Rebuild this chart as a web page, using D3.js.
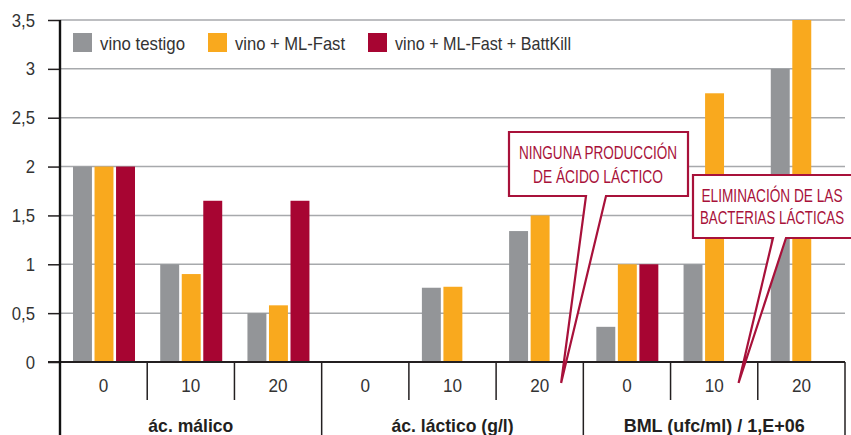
<!DOCTYPE html>
<html>
<head>
<meta charset="utf-8">
<script src="https://cdn.jsdelivr.net/npm/d3@7"></script>
<style>
  body { margin: 0; background: #fff; }
  svg { display: block; font-family: "Liberation Sans", Arial, sans-serif; }
</style>
</head>
<body>
<svg id="chart" width="851" height="435"></svg>
<script>
// DATA
const groups = ["ác. málico", "ác. láctico (g/l)", "BML (ufc/ml) / 1,E+06"];
const levels = ["0", "10", "20"];
const seriesNames = ["vino testigo", "vino + ML-Fast", "vino + ML-Fast + BattKill"];
const vinoTestigo = [2, 1, 0.5, 0, 0.76, 1.34, 0.36, 1, 3];
const vinoMLFast = [2, 0.9, 0.58, 0, 0.77, 1.5, 1, 2.75, 3.5];
const vinoBattKill = [2, 1.65, 1.65, 0, 0, 0, 1, 0, 0];
const yTicks = [0, 0.5, 1, 1.5, 2, 2.5, 3, 3.5];
const notes = [
  { lines: ["NINGUNA PRODUCCIÓN", "DE ÁCIDO LÁCTICO"], slot: 5 },
  { lines: ["ELIMINACIÓN DE LAS", "BACTERIAS LÁCTICAS"], slot: 7 }
];

const colors = ["#939598", "#f9a91e", "#a70532"];
const noteColor = "#a8113a";
const textColor = "#333333";

const svg = d3.select("#chart");

// condensed look: squeeze text to the widths seen in the original
const squeeze = (sel, w) => sel.attr("textLength", w).attr("lengthAdjust", "spacingAndGlyphs");

// SCALES
const plotLeft = 60, plotRight = 845, plotTop = 20, plotBase = 362;
const slots = d3.range(groups.length * levels.length);

const xScale = d3.scaleBand().domain(slots).range([plotLeft, plotRight]).padding(0);
const xSeries = d3.scaleBand().domain(d3.range(seriesNames.length))
  .range([13, 75]).paddingInner(0.12).paddingOuter(0);
const yScale = d3.scaleLinear().domain([0, 3.5]).range([plotBase, plotTop]);

// GRIDLINES
svg.append("g")
  .selectAll("line")
  .data(yTicks)
  .join("line")
  .attr("x1", plotLeft).attr("x2", plotRight)
  .attr("y1", d => yScale(d)).attr("y2", d => yScale(d))
  .attr("stroke", "#a7a9ac").attr("stroke-width", 1.5);

// Y AXIS
const yAxis = d3.axisLeft(yScale)
  .tickValues(yTicks)
  .tickSize(12)
  .tickPadding(13)
  .tickFormat(d => String(d).replace(".", ","));

const yG = svg.append("g").attr("transform", `translate(${plotLeft},0)`).call(yAxis);
yG.select(".domain").remove();
yG.selectAll(".tick line").attr("stroke", "#231f20").attr("stroke-width", 1.5);
yG.selectAll(".tick text")
  .attr("fill", textColor)
  .attr("font-size", 19)
  .attr("font-family", "Liberation Sans, Arial, sans-serif")
  .each(function () {
    const t = d3.select(this);
    squeeze(t, this.getComputedTextLength() * 0.88);
  });

// BARS
const seriesData = [vinoTestigo, vinoMLFast, vinoBattKill];
seriesData.forEach((vals, si) => {
  svg.append("g")
    .selectAll("rect")
    .data(vals)
    .join("rect")
    .attr("x", (d, i) => xScale(i) + xSeries(si))
    .attr("width", xSeries.bandwidth())
    .attr("y", d => yScale(d))
    .attr("height", d => yScale(0) - yScale(d))
    .attr("fill", colors[si]);
});

// X AXIS FRAME
svg.append("line")
  .attr("x1", plotLeft - 12).attr("x2", plotRight)
  .attr("y1", plotBase).attr("y2", plotBase)
  .attr("stroke", "#231f20").attr("stroke-width", 2.2);

svg.append("line")
  .attr("x1", plotLeft).attr("x2", plotLeft)
  .attr("y1", plotTop).attr("y2", 435)
  .attr("stroke", "#111").attr("stroke-width", 2.4);

// separators between categories
const minorEdges = slots.slice(1).filter(i => i % levels.length !== 0);
svg.append("g")
  .selectAll("line")
  .data(minorEdges)
  .join("line")
  .attr("x1", d => xScale(d)).attr("x2", d => xScale(d))
  .attr("y1", plotBase).attr("y2", 400)
  .attr("stroke", "#231f20").attr("stroke-width", 1.5);

const majorEdges = d3.range(1, groups.length + 1).map(g => g * levels.length);
svg.append("g")
  .selectAll("line")
  .data(majorEdges)
  .join("line")
  .attr("x1", d => d < slots.length ? xScale(d) : plotRight)
  .attr("x2", d => d < slots.length ? xScale(d) : plotRight)
  .attr("y1", plotBase).attr("y2", 435)
  .attr("stroke", "#231f20").attr("stroke-width", 1.5);

// category labels
svg.append("g")
  .selectAll("text")
  .data(slots)
  .join("text")
  .attr("x", d => xScale(d) + xScale.bandwidth() / 2)
  .attr("y", 392)
  .attr("text-anchor", "middle")
  .attr("font-size", 19)
  .attr("fill", textColor)
  .text(d => levels[d % levels.length])
  .each(function () {
    squeeze(d3.select(this), this.getComputedTextLength() * 0.9);
  });

const groupWidths = [85, 122, 181];
svg.append("g")
  .selectAll("text")
  .data(groups)
  .join("text")
  .attr("x", (d, g) => xScale(g * 3) + xScale.bandwidth() * 1.5)
  .attr("y", 432)
  .attr("text-anchor", "middle")
  .attr("font-size", 19)
  .attr("font-weight", "bold")
  .attr("fill", "#231f20")
  .text(d => d)
  .each(function (d, i) { squeeze(d3.select(this), groupWidths[i]); });

// LEGEND
const legendX = [73, 208, 368];
const legendWidths = [85, 110, 176];
const legend = svg.append("g")
  .selectAll("g")
  .data(seriesNames)
  .join("g")
  .attr("transform", (d, i) => `translate(${legendX[i]},33)`);
legend.append("rect").attr("width", 19).attr("height", 19).attr("fill", (d, i) => colors[i]);
legend.append("text")
  .attr("x", 27).attr("y", 17)
  .attr("font-size", 19)
  .attr("fill", textColor)
  .text(d => d)
  .each(function (d, i) { squeeze(d3.select(this), legendWidths[i]); });

// CALLOUTS
const noteBoxes = [
  { x0: 509, x1: 688, y0: 132, y1: 196, s0: 586, s1: 606, tipDx: 65, cx: 598, b: [159, 183], w: [158, 130] },
  { x0: 693, x1: 860, y0: 175, y1: 238, s0: 773, s1: 786, tipDx: 68, cx: 772, b: [202, 224], w: [141, 144] }
];
notes.forEach((n, k) => {
  const bx = noteBoxes[k];
  const tipX = xScale(n.slot) + bx.tipDx;
  const tipY = 383;
  const p = d3.path();
  p.moveTo(bx.x0, bx.y0);
  p.lineTo(bx.x1, bx.y0);
  p.lineTo(bx.x1, bx.y1);
  p.lineTo(bx.s1, bx.y1);
  p.lineTo(tipX, tipY);
  p.lineTo(bx.s0, bx.y1);
  p.lineTo(bx.x0, bx.y1);
  p.closePath();
  svg.append("path")
    .attr("d", p.toString())
    .attr("fill", "#fff")
    .attr("stroke", noteColor)
    .attr("stroke-width", 2.2)
    .attr("stroke-linejoin", "miter");
  svg.append("g")
    .selectAll("text")
    .data(n.lines)
    .join("text")
    .attr("x", bx.cx)
    .attr("y", (d, i) => bx.b[i])
    .attr("text-anchor", "middle")
    .attr("font-size", 18)
    .attr("fill", noteColor)
    .text(d => d)
    .each(function (d, i) { squeeze(d3.select(this), bx.w[i]); });
});
</script>
</body>
</html>
